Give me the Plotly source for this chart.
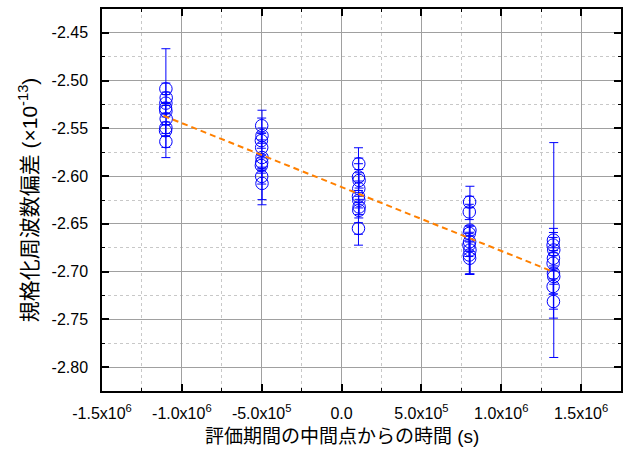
import plotly.graph_objects as go

# ---- data (normalized frequency deviation, x1e-13) ----
c1_x = [-1.100e6, -1.098e6, -1.100e6, -1.102e6, -1.100e6, -1.098e6, -1.100e6, -1.102e6, -1.100e6]
c1_y = [-2.5086, -2.5180, -2.5236, -2.5288, -2.5320, -2.5400, -2.5493, -2.5524, -2.5639]
c1_e = [0.006, 0.006, 0.057, 0.006, 0.006, 0.006, 0.006, 0.006, 0.006]

c2_x = [-5.00e5, -4.98e5, -5.02e5, -5.00e5, -4.98e5, -5.00e5, -5.02e5, -5.00e5, -4.98e5]
c2_y = [-2.5472, -2.5576, -2.5628, -2.5701, -2.5805, -2.5857, -2.5889, -2.6003, -2.6076]
c2_e = [0.008, 0.008, 0.008, 0.008, 0.0495, 0.008, 0.008, 0.008, 0.017]

c3_x = [1.08e5, 1.06e5, 1.10e5, 1.08e5, 1.06e5, 1.08e5, 1.10e5, 1.08e5, 1.06e5]
c3_y = [-2.5871, -2.6010, -2.6045, -2.6131, -2.6213, -2.6253, -2.6323, -2.6358, -2.6548]
c3_e = [0.006, 0.014, 0.008, 0.008, 0.051, 0.008, 0.008, 0.008, 0.006]

c4_x = [8.02e5, 8.00e5, 8.04e5, 8.00e5, 8.02e5, 7.98e5, 8.04e5, 8.00e5, 8.02e5]
c4_y = [-2.6271, -2.6375, -2.6566, -2.6600, -2.6688, -2.6722, -2.6774, -2.6826, -2.6860]
c4_e = [0.006, 0.008, 0.046, 0.008, 0.010, 0.012, 0.025, 0.020, 0.017]

c5_x = [1.327e6, 1.325e6, 1.329e6, 1.327e6, 1.325e6, 1.327e6, 1.329e6, 1.325e6, 1.327e6]
c5_y = [-2.6670, -2.6722, -2.6774, -2.6860, -2.6912, -2.7017, -2.7052, -2.7156, -2.7313]
c5_e = [0.008, 0.008, 0.1125, 0.008, 0.008, 0.047, 0.008, 0.008, 0.008]

# linear fit
fit_slope = -6.69e-8
fit_intercept = -2.6114
fit_x = [-1.115e6, 1.325e6]
fit_y = [fit_intercept + fit_slope * v for v in fit_x]

x_tickvals = [-1.5e6, -1.0e6, -5.0e5, 0.0, 5.0e5, 1.0e6, 1.5e6]
x_ticktext = ["-1.5x10<sup>6</sup>", "-1.0x10<sup>6</sup>", "-5.0x10<sup>5</sup>", "0.0",
              "5.0x10<sup>5</sup>", "1.0x10<sup>6</sup>", "1.5x10<sup>6</sup>"]
y_tickvals = [-2.45, -2.50, -2.55, -2.60, -2.65, -2.70, -2.75, -2.80]
y_ticktext = ["-2.45", "-2.50", "-2.55", "-2.60", "-2.65", "-2.70", "-2.75", "-2.80"]

x_title = "評価期間の中間点からの時間 (s)"
y_title = "規格化周波数偏差 (×10<sup>-13</sup>)"

xs = c1_x + c2_x + c3_x + c4_x + c5_x
ys = c1_y + c2_y + c3_y + c4_y + c5_y
es = c1_e + c2_e + c3_e + c4_e + c5_e

FONT = "Liberation Sans, Arial, Noto Sans CJK JP"

fig = go.Figure()
fig.add_trace(go.Scatter(
    x=xs, y=ys, mode="markers",
    marker=dict(symbol="circle-open", size=12.5, color="#0000ff", line=dict(width=1, color="#0000ff")),
    error_y=dict(type="data", array=es, visible=True, color="#0000ff", thickness=1, width=4.5),
    showlegend=False, hoverinfo="skip",
))
fig.add_trace(go.Scatter(
    x=fit_x, y=fit_y, mode="lines",
    line=dict(color="#ff8000", width=2, dash="6px,4px"),
    showlegend=False, hoverinfo="skip",
))

fig.update_layout(
    width=626, height=452,
    margin=dict(l=102, r=5, t=9, b=61, autoexpand=False),
    paper_bgcolor="white", plot_bgcolor="white",
    font=dict(family=FONT, size=16, color="black"),
)
fig.update_xaxes(
    range=[-1.5e6, 1.75e6], tickmode="array", tickvals=x_tickvals, ticktext=x_ticktext,
    ticks="inside", ticklen=7, tickwidth=1.5, tickcolor="black",
    showline=True, linecolor="black", linewidth=1.5, mirror="allticks",
    showgrid=True, gridcolor="#a0a0a0", gridwidth=1, zeroline=False,
    minor=dict(tick0=0, dtick=2.5e5, ticks="inside", ticklen=3.5, tickwidth=1, tickcolor="black",
               showgrid=True, gridcolor="#c8c8c8", griddash="dot", gridwidth=1),
    tickfont=dict(size=16), ticklabelstandoff=7, automargin=False,
)
fig.update_yaxes(
    range=[-2.825, -2.425], tickmode="array", tickvals=y_tickvals, ticktext=y_ticktext,
    ticks="inside", ticklen=7, tickwidth=1.5, tickcolor="black",
    showline=True, linecolor="black", linewidth=1.5, mirror="allticks",
    showgrid=True, gridcolor="#a0a0a0", gridwidth=1, zeroline=False,
    minor=dict(tick0=-2.45, dtick=0.025, ticks="inside", ticklen=3.5, tickwidth=1, tickcolor="black",
               showgrid=True, gridcolor="#c8c8c8", griddash="dot", gridwidth=1),
    tickfont=dict(size=16), ticklabelstandoff=9, automargin=False,
    title=dict(text=y_title, font=dict(size=21), standoff=8),
)
fig.add_annotation(
    text=x_title, xref="paper", yref="paper", x=0.462, y=-0.12,
    xanchor="center", yanchor="middle", showarrow=False, font=dict(size=19),
)

fig.write_html("out.html", config={"displayModeBar": False},
               post_script="document.body.style.margin='0px';")
